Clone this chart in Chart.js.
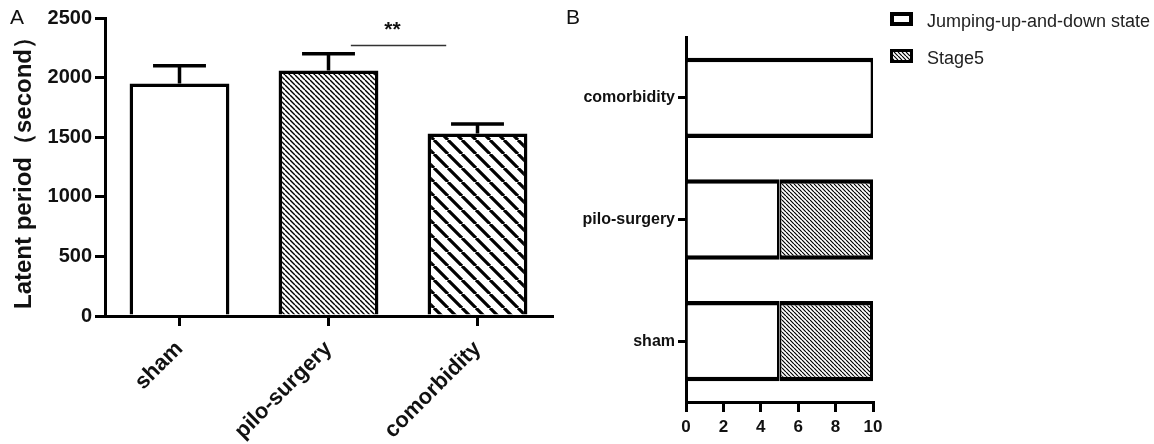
<!DOCTYPE html>
<html><head><meta charset="utf-8">
<script src="https://cdn.jsdelivr.net/npm/chart.js@4.4.1/dist/chart.umd.min.js"></script>
<style>
html,body{margin:0;padding:0;background:#fff;}
#wrap{position:relative;width:1154px;height:444px;overflow:hidden;background:#fff;}
.pl{position:absolute;font-family:"Liberation Sans",Arial,sans-serif;font-size:21px;color:#111;line-height:1;}
#cA{position:absolute;left:0;top:0;}
#cB{position:absolute;left:570px;top:0;}
</style></head><body>
<div id="wrap">
<canvas id="cA" width="570" height="444"></canvas>
<canvas id="cB" width="584" height="444"></canvas>
<div class="pl" style="left:10px;top:6px">A</div>
<div class="pl" style="left:566px;top:6px">B</div>
</div>
<script>
// ---- Panel A data ----
const groups = ['sham', 'pilo-surgery', 'comorbidity'];
const latentMean = [1950, 2060, 1530];
const latentErr = [150, 140, 80];
const yTicksA = [0, 500, 1000, 1500, 2000, 2500];
const yTitleA = 'Latent period（second）';
const sigPair = [1, 2];
const sigLevel = 2270;
const sigLabel = '**';

// ---- Panel B data ----
const groupsB = ['comorbidity', 'pilo-surgery', 'sham'];
const jumpingState = [10, 5, 5];
const stage5 = [0, 5, 5];
const seriesB = ['Jumping-up-and-down state', 'Stage5'];
const xTicksB = [0, 2, 4, 6, 8, 10];

const ARIAL = '"Liberation Sans", Arial, sans-serif';
const INK = '#111';

function hatch(size, lw, bg) {
  const c = document.createElement('canvas');
  c.width = size; c.height = size;
  const g = c.getContext('2d');
  g.fillStyle = bg; g.fillRect(0, 0, size, size);
  g.strokeStyle = '#000'; g.lineWidth = lw;
  g.beginPath();
  for (let k = -1; k <= 1; k++) {
    g.moveTo(k * size, 0);
    g.lineTo(k * size + size, size);
  }
  g.stroke();
  return g.createPattern(c, 'repeat');
}
const denseHatch = hatch(5, 1.4, '#fff');
const denseHatchB = hatch(4, 1.2, '#fff');
const wideHatch = hatch(14, 3.2, '#fff');

const errorBars = {
  id: 'errorBars',
  afterDatasetsDraw(chart) {
    const { ctx, scales: { x, y } } = chart;
    const meta = chart.getDatasetMeta(0);
    ctx.save();
    ctx.strokeStyle = '#000';
    ctx.lineWidth = 3.5;
    ctx.lineCap = 'butt';
    meta.data.forEach((bar, i) => {
      const top = y.getPixelForValue(latentMean[i] + latentErr[i]);
      const base = y.getPixelForValue(latentMean[i]);
      const half = bar.width * 0.265;
      ctx.beginPath();
      ctx.moveTo(bar.x, base); ctx.lineTo(bar.x, top);
      ctx.moveTo(bar.x - half, top); ctx.lineTo(bar.x + half, top);
      ctx.stroke();
    });
    // significance marker
    const band = x.getPixelForValue(1) - x.getPixelForValue(0);
    const x1 = x.getPixelForValue(sigPair[0]) + band * 0.15;
    const x2 = x.getPixelForValue(sigPair[1]) - band * 0.21;
    const ys = y.getPixelForValue(sigLevel);
    ctx.lineWidth = 1.5;
    ctx.strokeStyle = '#333';
    ctx.beginPath(); ctx.moveTo(x1, ys); ctx.lineTo(x2, ys); ctx.stroke();
    ctx.fillStyle = INK;
    ctx.font = 'bold 21px ' + ARIAL;
    ctx.textAlign = 'center';
    ctx.textBaseline = 'middle';
    ctx.fillText(sigLabel, (x1 + x2) / 2 - 6, ys - 15);
    ctx.restore();
  }
};

new Chart(document.getElementById('cA'), {
  type: 'bar',
  data: {
    labels: groups,
    datasets: [{
      data: latentMean,
      backgroundColor: ['#fff', denseHatch, wideHatch],
      borderColor: '#000',
      borderWidth: 3.5,
      barPercentage: 0.67,
      categoryPercentage: 1
    }]
  },
  options: {
    responsive: false,
    animation: false,
    events: [],
    layout: { padding: { top: 18, right: 18, left: 0, bottom: 0 } },
    plugins: { legend: { display: false }, tooltip: { enabled: false } },
    scales: {
      x: {
        offset: true,
        grid: { offset: false, drawOnChartArea: false, drawTicks: true, tickLength: 10, color: '#000', lineWidth: 3 },
        border: { display: true, color: '#000', width: 3 },
        ticks: { color: INK, font: { family: ARIAL, size: 22, weight: 'bold' }, minRotation: 45, maxRotation: 45, padding: 10 },
        afterFit(s) { s.height = 128; }
      },
      y: {
        min: 0, max: 2500,
        afterBuildTicks(s) { s.ticks = yTicksA.map(v => ({ value: v })); },
        grid: { drawOnChartArea: false, tickLength: 10, color: '#000', lineWidth: 3 },
        border: { display: true, color: '#000', width: 3 },
        ticks: { color: INK, font: { family: ARIAL, size: 20, weight: 'bold' }, padding: 3, callback: v => String(v) },
        title: { display: true, text: yTitleA, color: INK, font: { family: ARIAL, size: 24, weight: 'bold' }, padding: { top: 10, bottom: 0 } },
        afterFit(s) { s.width = 105; }
      }
    }
  },
  plugins: [errorBars]
});

const legendB = {
  id: 'legendB',
  afterDraw(chart) {
    const { ctx } = chart;
    ctx.save();
    const rows = [{ y: 12, fill: '#fff', lw: 4 }, { y: 49, fill: denseHatchB, lw: 3 }];
    chart.data.datasets.forEach((ds, i) => {
      const r = rows[i];
      const bx = 320, bw = 23, bh = 14;
      ctx.fillStyle = r.fill;
      ctx.fillRect(bx, r.y, bw, bh);
      ctx.strokeStyle = '#000';
      ctx.lineWidth = r.lw;
      ctx.strokeRect(bx + r.lw / 2, r.y + r.lw / 2, bw - r.lw, bh - r.lw);
      ctx.fillStyle = '#222';
      ctx.font = '18px ' + ARIAL;
      ctx.textAlign = 'left';
      ctx.textBaseline = 'alphabetic';
      ctx.fillText(ds.label, 357, r.y + 15);
    });
    ctx.restore();
  }
};

new Chart(document.getElementById('cB'), {
  type: 'bar',
  data: {
    labels: groupsB,
    datasets: [
      { label: seriesB[0], data: jumpingState, backgroundColor: '#fff', borderColor: '#000',
        borderWidth: { top: 4.5, bottom: 4.5, left: 3, right: 2.5 }, borderSkipped: 'start', inflateAmount: 0, barPercentage: 0.66, categoryPercentage: 1 },
      { label: seriesB[1], data: stage5, backgroundColor: denseHatchB, borderColor: '#000',
        borderWidth: { top: 4.5, bottom: 4.5, left: 2, right: 3 }, borderSkipped: false, inflateAmount: 0, barPercentage: 0.66, categoryPercentage: 1 }
    ]
  },
  options: {
    indexAxis: 'y',
    responsive: false,
    animation: false,
    events: [],
    layout: { padding: { top: 37, right: 281, left: 0, bottom: 0 } },
    plugins: { legend: { display: false }, tooltip: { enabled: false } },
    scales: {
      x: {
        stacked: true, min: 0, max: 10,
        afterBuildTicks(s) { s.ticks = xTicksB.map(v => ({ value: v })); },
        grid: { drawOnChartArea: false, tickLength: 10, color: '#000', lineWidth: 3 },
        border: { display: true, color: '#000', width: 3 },
        ticks: { color: INK, font: { family: ARIAL, size: 17, weight: 'bold' }, padding: 5, maxRotation: 0 },
        afterFit(s) { s.height = 42; }
      },
      y: {
        stacked: true, offset: true,
        grid: { offset: false, drawOnChartArea: false, tickLength: 8, color: '#000', lineWidth: 3 },
        border: { display: true, color: '#000', width: 3 },
        ticks: { color: INK, font: { family: ARIAL, size: 16, weight: 'bold' }, padding: 3 },
        afterFit(s) { s.width = 116; }
      }
    }
  },
  plugins: [legendB]
});
</script>
</body></html>
